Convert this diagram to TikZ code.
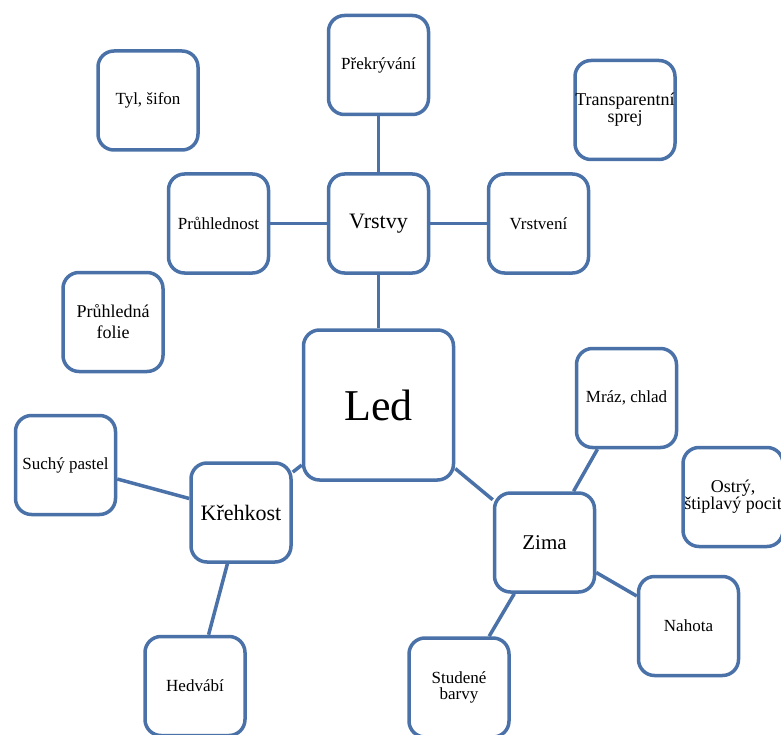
\documentclass[tikz,border=0pt]{standalone}
\usepackage{fontspec}
\setmainfont{Liberation Serif}
\definecolor{boxblue}{RGB}{74,114,168}
\tikzset{
  bx/.style={draw=boxblue, line width=3.5pt, rounded corners=16pt, fill=white,
    minimum width=100pt, minimum height=99pt, inner sep=0pt, align=center,
    font=\fontsize{17}{19}\selectfont},
  mid/.style={font=\fontsize{22}{24}\selectfont},
  big/.style={minimum width=150pt, minimum height=150pt, font=\fontsize{44}{48}\selectfont},
  conn/.style={draw=boxblue, line width=3.5pt}
}
\begin{document}
\begin{tikzpicture}[x=1pt,y=-1pt]
\clip (0,0) rectangle (781,735);
\fill[white] (0,0) rectangle (781,735);
% nodes
\node[bx] (tyl) at (148,100.5) {Tyl, šifon};
\node[bx] (prek) at (378.5,65) {Překrývání};
\node[bx, font=\fontsize{18}{17}\selectfont] (trans) at (625,110) {Transparentní\\sprej};
\node[bx] (pruh) at (218.5,223.5) {Průhlednost};
\node[bx, mid] (vrstvy) at (378.5,223.5) {Vrstvy};
\node[bx] (vrstveni) at (538.5,223.5) {Vrstvení};
\node[bx, font=\fontsize{18}{21}\selectfont] (folie) at (113,322) {Průhledná\\folie};
\node[bx, big] (led) at (378.5,405) {Led};
\node[bx] (suchy) at (65.5,465) {Suchý pastel};
\node[bx, mid] (kreh) at (241,512.5) {Křehkost};
\node[bx] (hedv) at (195,686) {Hedvábí};
\node[bx] (mraz) at (626.5,398) {Mráz, chlad};
\node[bx, font=\fontsize{18}{17}\selectfont] (ostry) at (733,497) {Ostrý,\\štiplavý pocit};
\node[bx, mid, font=\fontsize{21}{24}\selectfont] (zima) at (544.5,542.5) {Zima};
\node[bx] (nahota) at (688.5,626) {Nahota};
\node[bx, font=\fontsize{17}{16}\selectfont] (stud) at (459,687.5) {Studené\\barvy};
% connectors
\begin{scope}[on background layer/.style={}]
\draw[conn] (prek) -- (vrstvy);
\draw[conn] (pruh) -- (vrstvy);
\draw[conn] (vrstvy) -- (vrstveni);
\draw[conn] (vrstvy) -- (led);
\draw[conn] (led) -- (kreh);
\draw[conn] (led) -- (zima);
\draw[conn] (kreh) -- (suchy);
\draw[conn] (kreh) -- (hedv);
\draw[conn] (zima) -- (mraz);
\draw[conn] (zima) -- (nahota);
\draw[conn] (zima) -- (stud);
\end{scope}
\end{tikzpicture}
\end{document}
